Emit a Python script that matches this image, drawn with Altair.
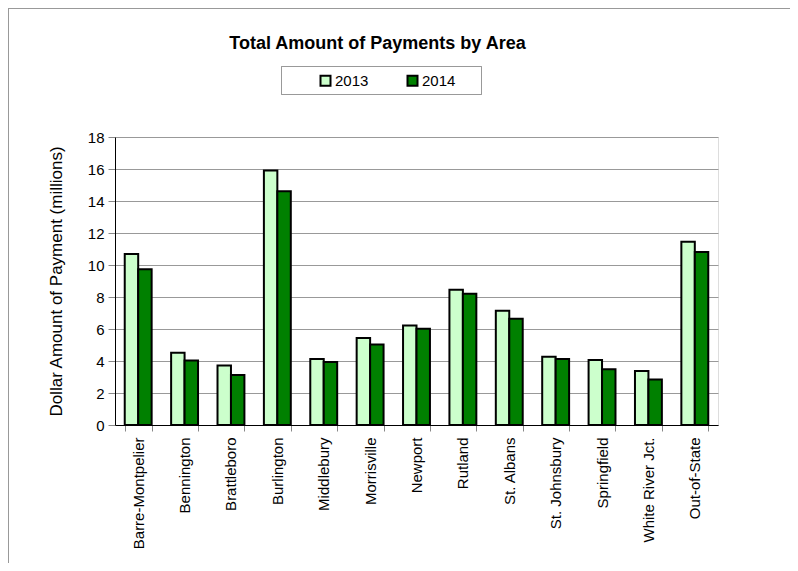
import altair as alt
import pandas as pd

areas = ["Barre-Montpelier", "Bennington", "Brattleboro", "Burlington", "Middlebury",
         "Morrisville", "Newport", "Rutland", "St. Albans", "St. Johnsbury",
         "Springfield", "White River Jct.", "Out-of-State"]
years = ["2013", "2014"]
vals_2013 = [10.69, 4.51, 3.72, 15.90, 4.13, 5.43, 6.22, 8.45, 7.14, 4.26, 4.07, 3.38, 11.46]
vals_2014 = [9.73, 4.03, 3.13, 14.61, 3.93, 5.03, 6.01, 8.20, 6.64, 4.13, 3.49, 2.84, 10.81]
colors = ["#CCFFCC", "#008000"]

rows = []
for a, v1, v2 in zip(areas, vals_2013, vals_2014):
    rows.append({"Area": a, "Year": "2013", "Value": v1})
    rows.append({"Area": a, "Year": "2014", "Value": v2})
df = pd.DataFrame(rows)

W, H = 603, 288
PL, PT, PR, PB = 107, 129, 72, 138
FONT = "Liberation Sans"

legend_box = alt.Chart(df).mark_rect(fill="white", stroke="#999999", strokeWidth=1).encode(
    x=alt.value(166.5), x2=alt.value(366.5), y=alt.value(-70.5), y2=alt.value(-42.5))

bars = alt.Chart(df).mark_bar(stroke="black", strokeWidth=2).encode(
    x=alt.X("Area:N", sort=areas, title=None,
            scale=alt.Scale(paddingInner=0.42, paddingOuter=0.21),
            axis=alt.Axis(labelAngle=-90, tickBand="extent", labelFontSize=15,
                          labelFont=FONT, labelColor="black", domainColor="black",
                          tickColor="#888888", tickSize=6, labelPadding=6,
                          labelLimit=300)),
    xOffset=alt.XOffset("Year:N", sort=years, scale=alt.Scale(paddingInner=0, paddingOuter=0)),
    y=alt.Y("Value:Q", title="Dollar Amount of Payment (millions)",
            scale=alt.Scale(domain=[0, 18], nice=False),
            axis=alt.Axis(values=list(range(0, 19, 2)), labelFontSize=15, labelFont=FONT,
                          labelColor="black", titleFont=FONT, titleFontSize=17,
                          titleFontWeight="normal", titleColor="black", titlePadding=22,
                          domainColor="black", tickColor="#888888", tickSize=7,
                          labelPadding=4, grid=True, gridColor="#999999", gridWidth=1)),
    fill=alt.Fill("Year:N", sort=years, title=None,
                  scale=alt.Scale(domain=years, range=colors),
                  legend=alt.Legend(orient="none", legendX=196, legendY=-71,
                                    direction="horizontal", padding=7,
                                    columnPadding=34, symbolType="square",
                                    symbolSize=100, symbolStrokeColor="black",
                                    symbolStrokeWidth=2, labelFontSize=15,
                                    labelFont=FONT, labelColor="black",
                                    labelOffset=2)),
)

frame_left = alt.Chart(df).mark_rule(color="#999999", strokeWidth=1).encode(
    x=alt.value(-PL + 0.5), y=alt.value(-PT + 0.5), y2=alt.value(H + PB))
frame_top = alt.Chart(df).mark_rule(color="#999999", strokeWidth=1).encode(
    x=alt.value(-PL + 0.5), x2=alt.value(W + PR), y=alt.value(-PT + 0.5))

chart = alt.layer(legend_box, bars, frame_left, frame_top).properties(
    width=W, height=H,
    autosize=alt.AutoSizeParams(type="none"),
    padding={"left": PL, "top": PT, "right": PR, "bottom": PB},
    title=alt.TitleParams("Total Amount of Payments by Area", fontSize=18,
                          fontWeight="bold", font=FONT, color="black",
                          anchor="middle", dx=-39, offset=-45, frame="group"),
).configure_view(stroke="#999999", strokeWidth=1).configure(background="white")

chart.save("out.html", embed_options={"renderer": "svg", "actions": False})
